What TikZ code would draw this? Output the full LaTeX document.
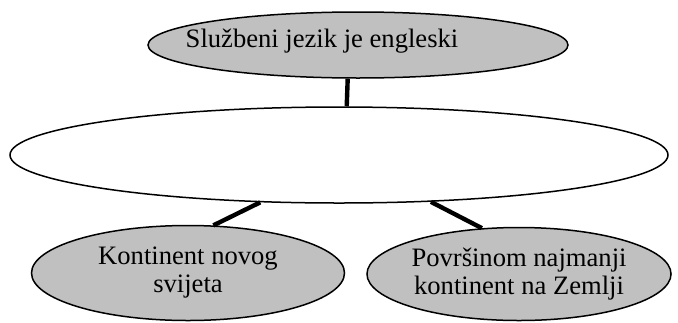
\documentclass[tikz,border=0pt]{standalone}
\usepackage{fontspec}
\setmainfont{Liberation Serif}
\usetikzlibrary{shapes.geometric}
\definecolor{ovalgray}{RGB}{192,192,192}
\tikzset{
  oval/.style={ellipse, draw, line width=.75pt, fill=ovalgray, inner sep=0pt, align=center},
  link/.style={line width=2.2pt}
}
\begin{document}
\begin{tikzpicture}[x=.5pt,y=-.5pt,font=\fontsize{13.3}{14}\selectfont]
\useasboundingbox (0,0) rectangle (678,322);

\node[oval, minimum width=210pt, minimum height=33pt] (official) at (358,45) {};
\node (officialtxt) at (322,41) {Službeni jezik je engleski};

\node[oval, fill=white, minimum width=329pt, minimum height=48pt] (blank) at (339,155) {};

\node[oval, minimum width=156.5pt, minimum height=47.5pt] (newworld) at (188,273) {Kontinent novog\\svijeta};
\node[oval, minimum width=149pt, minimum height=46.5pt] (smallest) at (519,274) {Površinom najmanji\\kontinent na Zemlji};

\draw[link] (official.253) -- (blank.81);
\draw[link] (blank.211) -- (newworld.62);
\draw[link] (blank.333) -- (smallest.129);
\end{tikzpicture}
\end{document}
